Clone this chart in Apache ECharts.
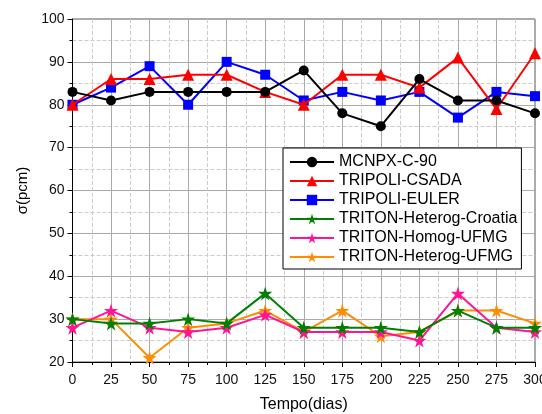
<!DOCTYPE html>
<html><head><meta charset="utf-8">
<script src="https://cdn.jsdelivr.net/npm/echarts@6/dist/echarts.min.js"></script>
<style>html,body{margin:0;padding:0;background:#fff}#c{width:542px;height:414px}</style>
</head><body><div id="c"></div>
<script>
var days = [0,25,50,75,100,125,150,175,200,225,250,275,300];
var mcnpx = [83,81,83,83,83,83,88,78,75,86,81,81,78];
var csada = [80,86,86,87,87,83,80,87,87,84,91,79,92];
var euler = [80,84,89,80,90,87,81,83,81,83,77,83,82];
var croatia = [30,29,29,30,29,36,28,28,28,27,32,28,28];
var homog = [28,32,28,27,28,31,27,27,27,25,36,28,27];
var heterog = [30,30,21,28,29,32,27,32,26,27,32,32,29];
var names = ['MCNPX-C-90','TRIPOLI-CSADA','TRIPOLI-EULER','TRITON-Heterog-Croatia','TRITON-Homog-UFMG','TRITON-Heterog-UFMG'];
var colors = ['#000000','#ff0000','#0000ff','#008000','#ff1493','#ff8c00'];
var star = 'path://M50,0 L61,35 L98,35 L68,57 L79,91 L50,70 L21,91 L32,57 L2,35 L39,35 Z';
var symbols = ['circle','triangle','rect',star,star,star];
var sizes = [10,12,10,14,14,14];
var datas = [mcnpx,csada,euler,croatia,homog,heterog];
var font = 'Liberation Sans, Arial, sans-serif';
var series = datas.map(function(d,i){
  return {name:names[i], type:'line', data:days.map(function(x,j){return [x,d[j]];}),
    symbol:symbols[i], symbolSize:sizes[i], showAllSymbol:true,
    lineStyle:{color:colors[i], width:2}, itemStyle:{color:colors[i]}, z:10-i};
});
var chart = echarts.init(document.getElementById('c'));
chart.setOption({
  animation:false,
  grid:{left:72.5, right:7, top:19, bottom:52, show:true, borderColor:'#555', borderWidth:1, outerBoundsMode:'none', containLabel:false},
  legend:{orient:'vertical', left:283, top:148, width:252, itemWidth:44, itemHeight:13, itemGap:3,
    backgroundColor:'#fff', borderColor:'#000', borderWidth:1, padding:[6,4,4,6],
    textStyle:{fontFamily:font, fontSize:16, color:'#000'}, data:names},
  xAxis:{type:'value', min:0, max:300, interval:25,
    name:'Tempo(dias)', nameLocation:'middle', nameGap:35, nameTextStyle:{fontFamily:font, fontSize:16, color:'#000'},
    axisLine:{show:true, lineStyle:{color:'#000', width:1}},
    axisTick:{show:true, length:5, lineStyle:{color:'#000'}},
    minorTick:{show:true, splitNumber:2, length:3, lineStyle:{color:'#000'}},
    axisLabel:{fontFamily:font, fontSize:14, color:'#111', margin:11},
    splitLine:{show:true, lineStyle:{color:'#aaa', width:1}},
    minorSplitLine:{show:true, lineStyle:{color:'#ccc', type:'dashed', width:1}}},
  yAxis:{type:'value', min:20, max:100, interval:10,
    name:'σ(pcm)', nameLocation:'middle', nameGap:42, nameTextStyle:{fontFamily:font, fontSize:15, color:'#000'},
    axisLine:{show:true, lineStyle:{color:'#000', width:1}},
    axisTick:{show:true, length:5, lineStyle:{color:'#000'}},
    minorTick:{show:true, splitNumber:2, length:3, lineStyle:{color:'#000'}},
    axisLabel:{fontFamily:font, fontSize:14, color:'#111', margin:8},
    splitLine:{show:true, lineStyle:{color:'#aaa', width:1}},
    minorSplitLine:{show:true, lineStyle:{color:'#ccc', type:'dashed', width:1}}},
  series:series
});
</script></body></html>
